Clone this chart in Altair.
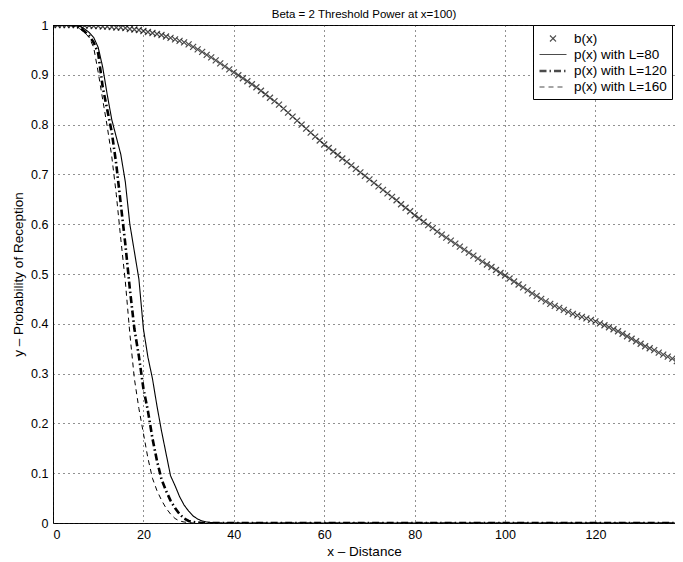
import altair as alt
import pandas as pd

# ---------------- data ----------------
names = ["b(x)", "p(x) with L=80", "p(x) with L=120", "p(x) with L=160"]

x_b = list(range(0, 140))
b_vals = [
    1.000, 1.000, 1.000, 1.000, 1.000, 1.000, 0.999, 0.999, 0.999, 0.998,
    0.998, 0.997, 0.997, 0.996, 0.995, 0.995, 0.994, 0.992, 0.991, 0.990,
    0.988, 0.986, 0.984, 0.982, 0.980, 0.977, 0.974, 0.971, 0.968, 0.965,
    0.961, 0.956, 0.951, 0.946, 0.940, 0.935, 0.929, 0.923, 0.917, 0.911,
    0.905, 0.899, 0.893, 0.887, 0.881, 0.875, 0.868, 0.861, 0.854, 0.847,
    0.840, 0.832, 0.824, 0.816, 0.808, 0.800, 0.792, 0.784, 0.776, 0.768,
    0.760, 0.753, 0.746, 0.739, 0.732, 0.725, 0.718, 0.711, 0.704, 0.697,
    0.690, 0.683, 0.676, 0.669, 0.662, 0.655, 0.648, 0.640, 0.633, 0.626,
    0.618, 0.612, 0.605, 0.598, 0.592, 0.585, 0.579, 0.573, 0.567, 0.561,
    0.555, 0.549, 0.543, 0.537, 0.531, 0.525, 0.519, 0.514, 0.508, 0.502,
    0.497, 0.491, 0.485, 0.479, 0.473, 0.467, 0.461, 0.456, 0.450, 0.445,
    0.440, 0.436, 0.432, 0.428, 0.424, 0.420, 0.417, 0.414, 0.411, 0.408,
    0.405, 0.401, 0.397, 0.393, 0.389, 0.385, 0.380, 0.375, 0.370, 0.365,
    0.360, 0.355, 0.351, 0.347, 0.342, 0.338, 0.334, 0.330, 0.325, 0.321,
]

x_p = list(range(0, 41)) + [139]
p80 = [
    1.0, 1.0, 1.0, 1.0, 1.0, 0.999, 0.997, 0.992, 0.985, 0.975,
    0.955, 0.915, 0.860, 0.810, 0.775, 0.740, 0.685, 0.600, 0.545, 0.490,
    0.390, 0.333, 0.290, 0.235, 0.185, 0.140, 0.095, 0.075, 0.053, 0.036,
    0.024, 0.014, 0.008, 0.004, 0.002, 0.001, 0.0, 0.0, 0.0, 0.0,
    0.0, 0.0,
]
p120 = [
    1.0, 1.0, 1.0, 1.0, 1.0, 0.998, 0.994, 0.987, 0.978, 0.965,
    0.943, 0.875, 0.830, 0.785, 0.720, 0.640, 0.560, 0.470, 0.390, 0.335,
    0.270, 0.225, 0.170, 0.125, 0.088, 0.065, 0.045, 0.030, 0.018, 0.009,
    0.004, 0.002, 0.001, 0.0, 0.0, 0.0, 0.0, 0.0, 0.0, 0.0,
    0.0, 0.0,
]
p160 = [
    1.0, 1.0, 1.0, 1.0, 1.0, 0.997, 0.992, 0.985, 0.975, 0.955,
    0.905, 0.850, 0.796, 0.736, 0.660, 0.570, 0.485, 0.380, 0.290, 0.230,
    0.180, 0.130, 0.090, 0.065, 0.046, 0.030, 0.018, 0.009, 0.004, 0.002,
    0.001, 0.0, 0.0, 0.0, 0.0, 0.0, 0.0, 0.0, 0.0, 0.0,
    0.0, 0.0,
]

x_ticks = [0, 20, 40, 60, 80, 100, 120]
y_ticks = [0, 0.1, 0.2, 0.3, 0.4, 0.5, 0.6, 0.7, 0.8, 0.9, 1]

df_b = pd.DataFrame({"x": x_b, "y": b_vals, "series": names[0]})
df_p = pd.concat([
    pd.DataFrame({"x": x_p, "y": p80, "series": names[1]}),
    pd.DataFrame({"x": x_p, "y": p120, "series": names[2]}),
    pd.DataFrame({"x": x_p, "y": p160, "series": names[3]}),
], ignore_index=True)

FONT = "Liberation Sans"
# symbol paths are scaled by sqrt(size)/2 = 7.5 px
X_PATH = "M-0.4,-0.4L0.4,0.4M-0.4,0.4L0.4,-0.4"
LINE_PATH = "M-1.8,0L1.8,0"
SYM_SIZE = 225

xscale = alt.Scale(domain=[0, 137.6], nice=False, zero=False)
yscale = alt.Scale(domain=[0, 1], nice=False)

shape_scale = alt.Scale(domain=names, range=[X_PATH, LINE_PATH, LINE_PATH, LINE_PATH])
dash_scale = alt.Scale(domain=names, range=[[1, 0], [1, 0], [7, 3, 1.5, 3], [5, 4]])
width_scale = alt.Scale(type="ordinal", domain=names, range=[1.2, 1.1, 2.6, 1])

legend = alt.Legend(
    title=None, orient="none", legendX=480, legendY=0,
    strokeColor="black", fillColor="white", padding=5, cornerRadius=0,
    symbolSize=SYM_SIZE, symbolOffset=6, labelOffset=12, rowPadding=1,
    labelFont=FONT, labelFontSize=13.5, labelColor="black",
    symbolStrokeColor="black",
)

xaxis = alt.Axis(values=x_ticks, title="x – Distance", grid=True, ticks=False,
                 domain=False, labelPadding=5, titlePadding=4)
yaxis = alt.Axis(values=y_ticks, title="y – Probability of Reception", grid=True,
                 ticks=False, domain=False, labelPadding=5, titlePadding=5,
                 format="~g")

points = alt.Chart(df_b).mark_point(
    filled=False, size=SYM_SIZE, color="black", strokeWidth=1.2, clip=True
).encode(
    x=alt.X("x:Q", scale=xscale, axis=xaxis),
    y=alt.Y("y:Q", scale=yscale, axis=yaxis),
    shape=alt.Shape("series:N", scale=shape_scale, legend=legend),
)

lines = alt.Chart(df_p).mark_line(color="black", clip=True).encode(
    x=alt.X("x:Q", scale=xscale),
    y=alt.Y("y:Q", scale=yscale),
    strokeDash=alt.StrokeDash("series:N", scale=dash_scale, legend=legend),
    strokeWidth=alt.StrokeWidth("series:N", scale=width_scale, legend=legend),
    detail="series:N",
)

chart = alt.layer(lines, points).properties(
    width=622, height=498,
    title=alt.TitleParams("Beta = 2 Threshold Power at x=100)", font=FONT,
                          fontSize=11.5, fontWeight="normal", color="black",
                          anchor="middle", offset=-1),
    autosize=alt.AutoSizeParams(type="none"),
    padding={"left": 45, "top": 17, "right": 0, "bottom": 39},
).configure(
    background="white",
).configure_view(
    stroke="black", strokeWidth=1,
).configure_axis(
    labelFont=FONT, labelFontSize=12.5, labelColor="black",
    titleFont=FONT, titleFontSize=13.5, titleFontWeight="normal", titleColor="black",
    gridColor="#222222", gridDash=[1, 4], gridOpacity=1, gridWidth=1,
)

chart.save("out.html", embed_options={"renderer": "svg", "actions": False})
